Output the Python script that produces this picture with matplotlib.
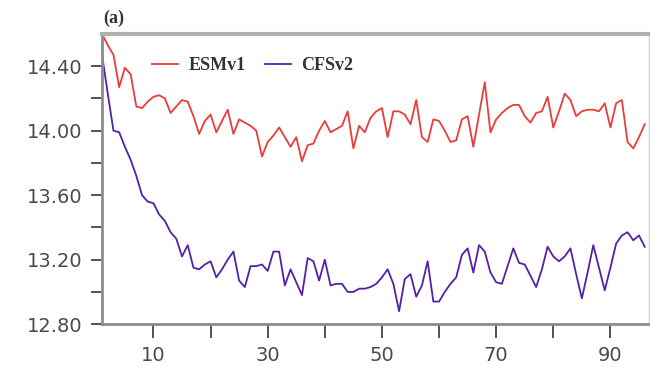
import numpy as np
import matplotlib
matplotlib.use("Agg")
import matplotlib.pyplot as plt
from matplotlib.ticker import FormatStrFormatter

# lead time (1..96) and the two series
lead = np.arange(1, 97)

esm = [14.60, 14.53, 14.47, 14.27, 14.39, 14.35, 14.15, 14.14, 14.18, 14.21,
       14.22, 14.20, 14.11, 14.15, 14.19, 14.18, 14.09, 13.98, 14.06, 14.10,
       13.99, 14.06, 14.13, 13.98, 14.07, 14.05, 14.03, 14.00, 13.84, 13.93,
       13.97, 14.02, 13.96, 13.90, 13.96, 13.81, 13.91, 13.92, 14.00, 14.06,
       13.99, 14.01, 14.03, 14.12, 13.89, 14.03, 13.99, 14.08, 14.12, 14.14,
       13.96, 14.12, 14.12, 14.10, 14.04, 14.19, 13.96, 13.93, 14.07, 14.06,
       14.00, 13.93, 13.94, 14.07, 14.09, 13.90, 14.10, 14.30, 13.99, 14.07,
       14.11, 14.14, 14.16, 14.16, 14.09, 14.05, 14.11, 14.12, 14.21, 14.02,
       14.12, 14.23, 14.19, 14.09, 14.12, 14.13, 14.13, 14.12, 14.17, 14.02,
       14.17, 14.19, 13.93, 13.89, 13.96, 14.04]

cfs = [14.47, 14.23, 14.00, 13.99, 13.90, 13.82, 13.72, 13.60, 13.56, 13.55,
       13.48, 13.44, 13.37, 13.33, 13.22, 13.29, 13.15, 13.14, 13.17, 13.19,
       13.09, 13.14, 13.20, 13.25, 13.07, 13.03, 13.16, 13.16, 13.17, 13.13,
       13.25, 13.25, 13.04, 13.14, 13.06, 12.98, 13.21, 13.19, 13.07, 13.20,
       13.04, 13.05, 13.05, 13.00, 13.00, 13.02, 13.02, 13.03, 13.05, 13.09,
       13.14, 13.05, 12.88, 13.08, 13.11, 12.97, 13.04, 13.19, 12.94, 12.94,
       13.00, 13.05, 13.09, 13.23, 13.27, 13.12, 13.29, 13.25, 13.12, 13.06,
       13.05, 13.16, 13.27, 13.18, 13.17, 13.10, 13.03, 13.14, 13.28, 13.22,
       13.19, 13.22, 13.27, 13.11, 12.96, 13.12, 13.29, 13.15, 13.01, 13.15,
       13.30, 13.35, 13.37, 13.32, 13.35, 13.28]

labels = ["ESMv1", "CFSv2"]
colors = ["#ec3b3b", "#5520a8"]

fig = plt.figure(figsize=(6.5, 3.73), dpi=100)
ax = fig.add_axes([0.157, 0.131, 0.841, 0.778])

ax.plot(lead, esm, color=colors[0], lw=1.3, label=labels[0])
ax.plot(lead, cfs, color=colors[1], lw=1.3, label=labels[1])

ax.set_xlim(1, 96.7)
ax.set_ylim(12.80, 14.60)

ax.set_xticks([10, 30, 50, 70, 90])
ax.set_xticks([20, 40, 60, 80], minor=True)
ax.set_yticks([12.8, 13.2, 13.6, 14.0, 14.4])
ax.set_yticks([13.0, 13.4, 13.8, 14.2], minor=True)
ax.yaxis.set_major_formatter(FormatStrFormatter("%.2f"))

ax.tick_params(which="both", direction="out", length=8, width=1.3,
               color="#444444", labelsize=14, labelcolor="#4a4a4a", pad=6)
ax.tick_params(axis="x", which="both", length=10)

for side in ["left", "bottom"]:
    ax.spines[side].set_color("#8c8c8c")
    ax.spines[side].set_linewidth(2)
ax.spines["top"].set_color("#b0b0b0")
ax.spines["top"].set_linewidth(3)
ax.spines["right"].set_color("#d0d0d0")
ax.spines["right"].set_linewidth(1)

leg = ax.legend(loc="center left", bbox_to_anchor=(0.092, 0.89), ncol=2,
                frameon=False, borderpad=0, borderaxespad=0,
                handlelength=1.4, handletextpad=0.6, columnspacing=1.1,
                prop={"family": "Liberation Serif", "weight": "bold", "size": 13})
for t in leg.get_texts():
    t.set_color("#333333")

fig.text(0.159, 0.952, "(a)", family="Liberation Serif", weight="bold",
         fontsize=13, color="#333333", va="center")

fig.savefig("out.png", dpi=100)
